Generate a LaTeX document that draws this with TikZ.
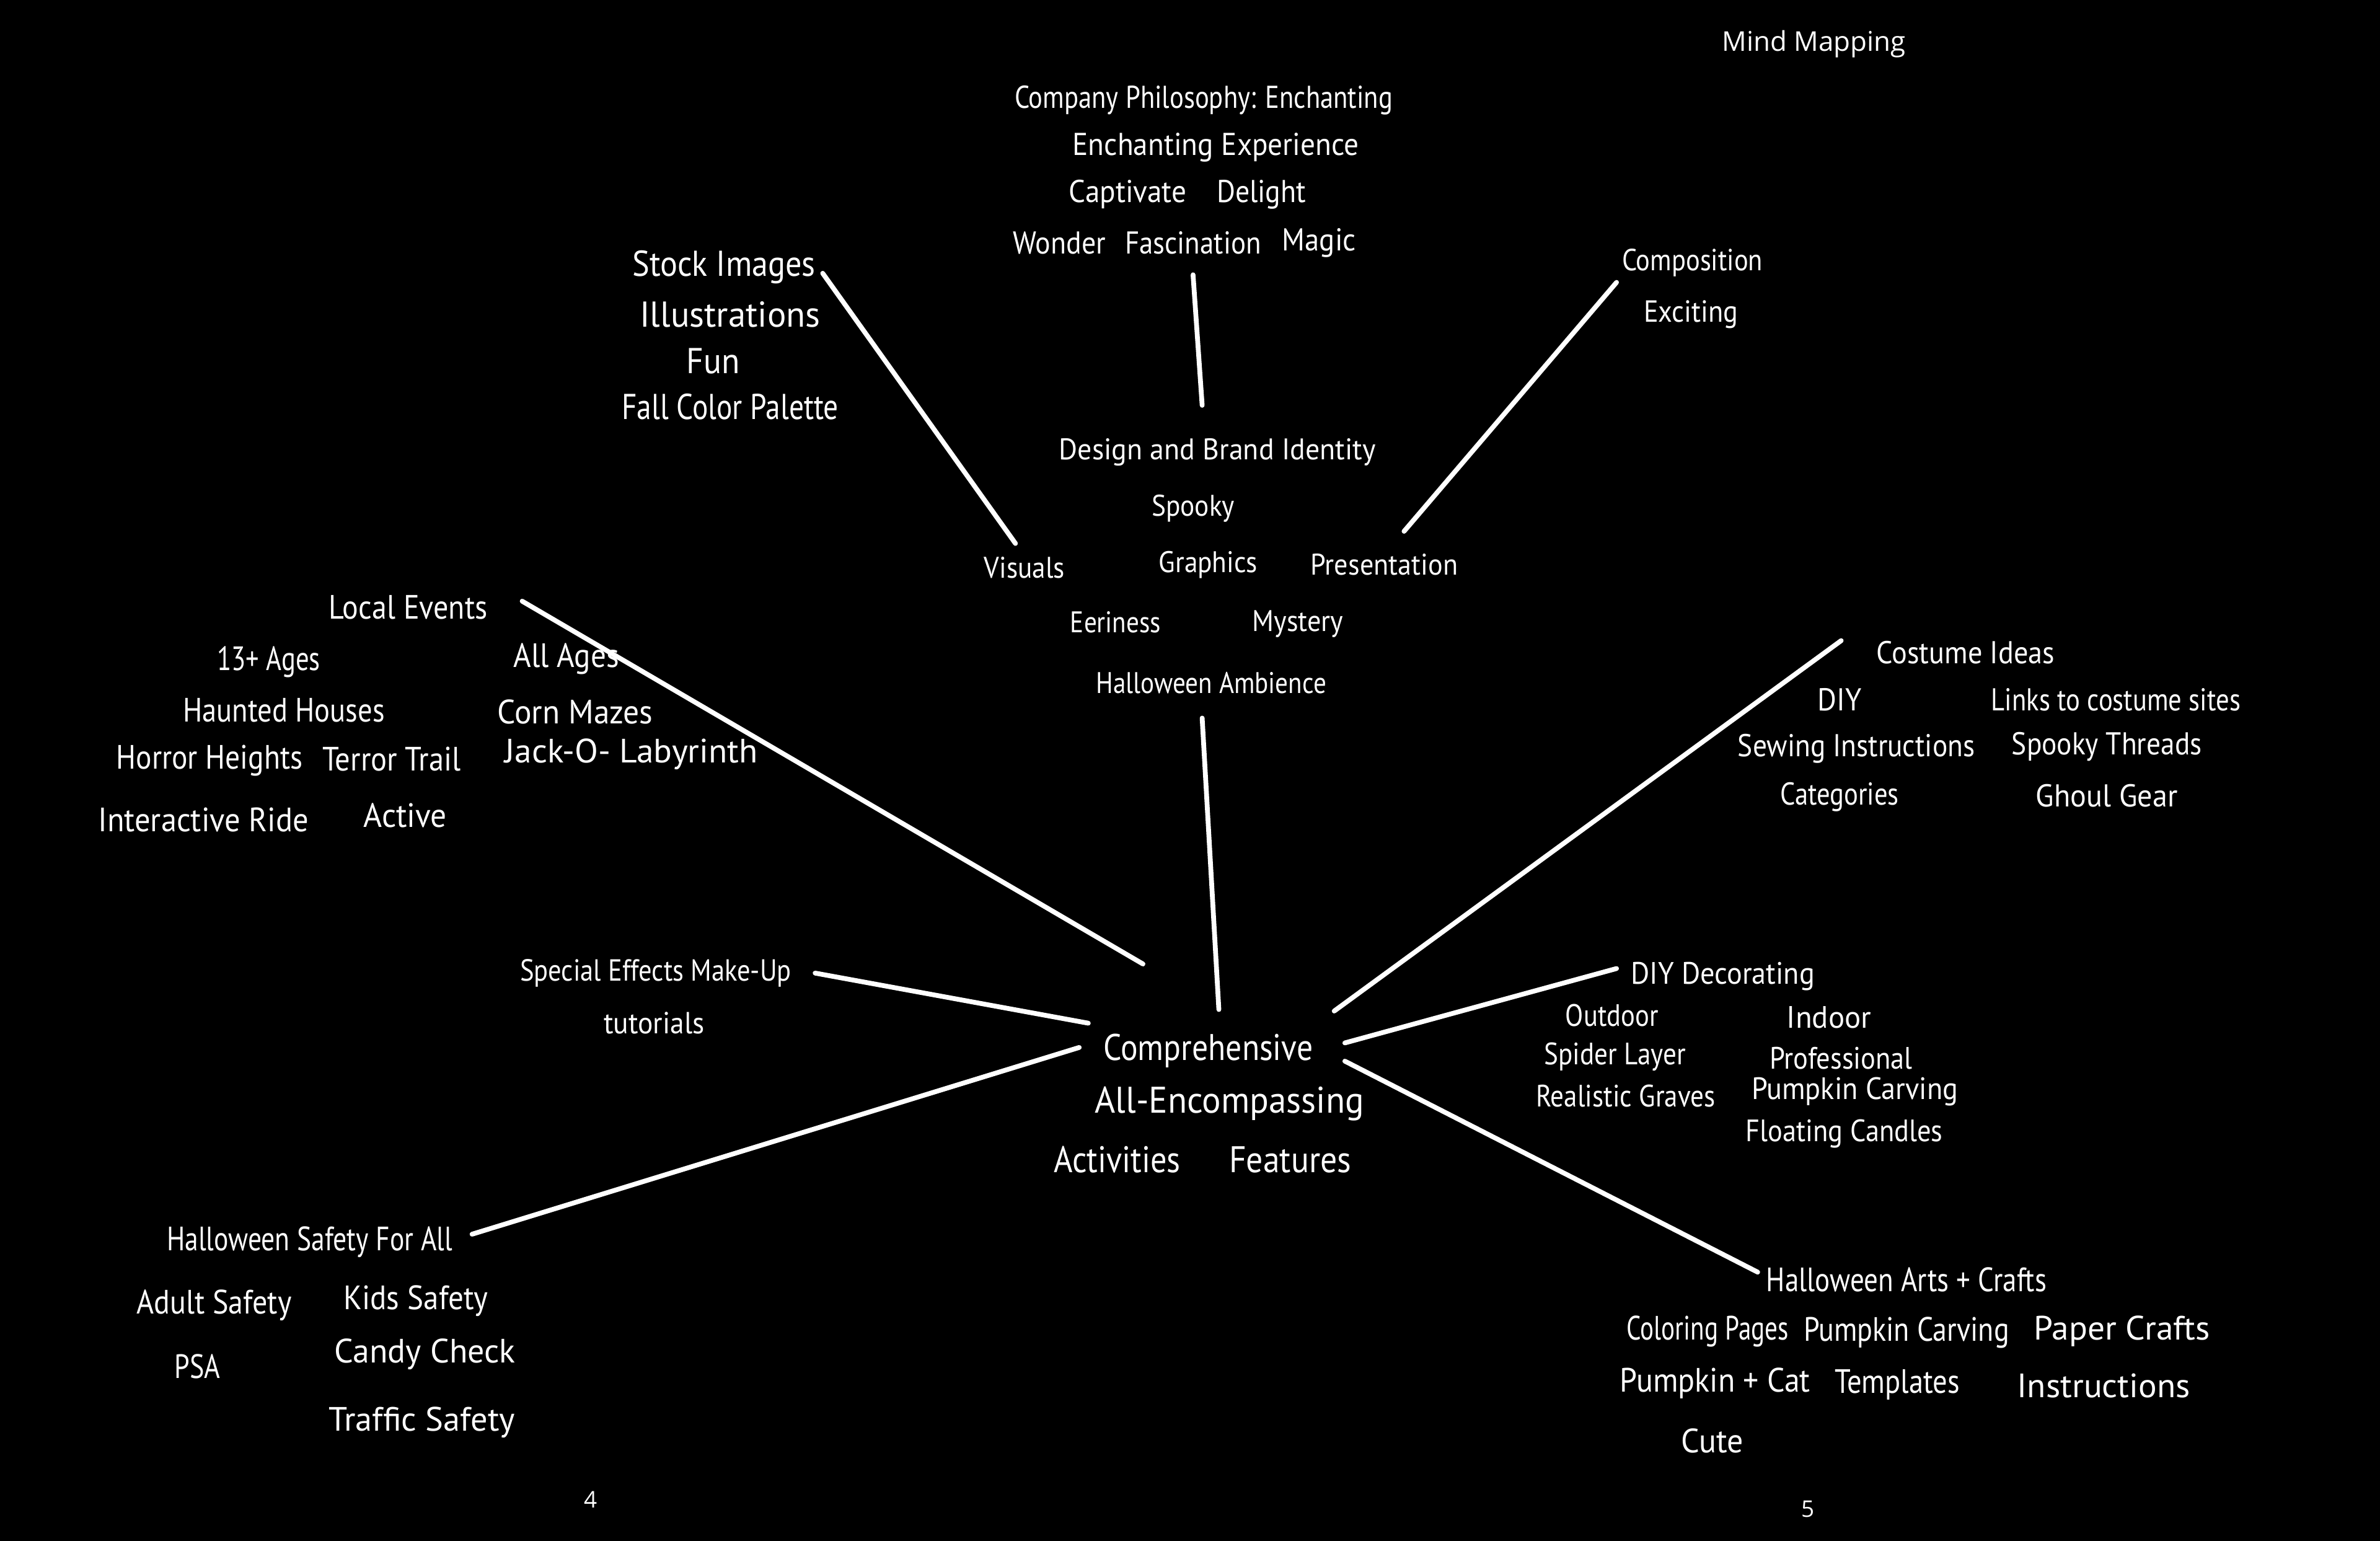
\documentclass[tikz,border=0pt]{standalone}
\usepackage{graphicx}
\usepackage{fontspec}
\newfontfamily\hand[FakeStretch=0.9]{PT Sans}
\newfontfamily\uifont{Open Sans}
\newcommand{\wfit}[2]{\scalebox{#1}[1]{#2}}
\begin{document}
\begin{tikzpicture}[x=0.02449cm,y=-0.02449cm,
  hw/.style={text=white,inner sep=0pt,font=\hand\fontsize{#1}{#1}\selectfont},
  ui/.style={text=white,inner sep=0pt,font=\uifont\fontsize{#1}{#1}\selectfont},
  conn/.style={draw=white,line width=2.2pt,line cap=round}]
\fill[black] (0,0) rectangle (1568,1015);
\useasboundingbox (0,0) rectangle (1568,1015);

% title and page numbers
\node[ui=12.5] (title) at (1195,29) {Mind Mapping};
\node[ui=10.5] (p4) at (389,988) {4};
\node[ui=10.5] (p5) at (1191,994) {5};

% company philosophy
\node[hw=14.5] (cp1) at (793,66) {\wfit{0.93}{Company Philosophy: Enchanting}};
\node[hw=14.5] (cp2) at (801,97) {\wfit{1.03}{Enchanting Experience}};
\node[hw=14.5] (cp3a) at (743,128) {\wfit{1.03}{Captivate}};
\node[hw=14.5] (cp3b) at (831,128) {Delight};
\node[hw=14.5] (cp4a) at (698,160) {Wonder};
\node[hw=14.5] (cp4b) at (786,160) {\wfit{0.98}{Fascination}};
\node[hw=14.5] (cp4c) at (869,160) {\wfit{1.02}{Magic}};

% design and brand identity
\node[hw=13.7] (db1) at (802,298) {\wfit{1.06}{Design and Brand Identity}};
\node[hw=13.7] (db2) at (786,335) {Spooky};
\node[hw=13.7] (vis) at (675,374) {Visuals};
\node[hw=13.7] (gra) at (796,372) {Graphics};
\node[hw=13.7] (pre) at (912,372) {\wfit{1.02}{Presentation}};
\node[hw=13.7] (eer) at (735,410) {\wfit{0.95}{Eeriness}};
\node[hw=13.7] (mys) at (855,411) {\wfit{1.02}{Mystery}};
\node[hw=13.7] (amb) at (798,450) {\wfit{0.95}{Halloween Ambience}};

% stock images
\node[hw=16.5] (st1) at (477,176) {Stock Images};
\node[hw=16.5] (st2) at (481,207) {\wfit{1.09}{Illustrations}};
\node[hw=16.5] (st3) at (470,238) {\wfit{1.03}{Fun}};
\node[hw=16.5] (st4) at (481,268) {\wfit{0.91}{Fall Color Palette}};

% composition
\node[hw=14] (co1) at (1115,173) {\wfit{0.96}{Composition}};
\node[hw=14] (co2) at (1114,207) {Exciting};

% center
\node[hw=17] (c1) at (796,692) {\wfit{0.96}{Comprehensive}};
\node[hw=17] (c2) at (810,727) {\wfit{1.06}{All-Encompassing}};
\node[hw=17] (c3) at (736,764) {\wfit{0.97}{Activities}};
\node[hw=17] (c4) at (850,764) {Features};

% local events
\node[hw=15.5] (le) at (269,400) {\wfit{0.98}{Local Events}};
\node[hw=15.5] (le1) at (177,436) {\wfit{0.87}{13+ Ages}};
\node[hw=15.5] (le2) at (373,434) {All Ages};
\node[hw=15.5] (le3) at (187,468) {\wfit{0.95}{Haunted Houses}};
\node[hw=15.5] (le4) at (379,469) {\wfit{1.05}{Corn Mazes}};
\node[hw=15.5] (le5) at (138,501) {\wfit{0.97}{Horror Heights}};
\node[hw=15.5] (le6) at (258,500) {\wfit{0.99}{Terror Trail}};
\node[hw=15.5] (le7) at (416,497) {\wfit{1.13}{Jack-O- Labyrinth}};
\node[hw=15.5] (le8) at (134,540) {\wfit{1.03}{Interactive Ride}};
\node[hw=15.5] (le9) at (267,537) {\wfit{1.05}{Active}};

% special effects
\node[hw=14] (sf1) at (432,641) {\wfit{0.96}{Special Effects Make-Up}};
\node[hw=14] (sf2) at (431,674) {\wfit{1.03}{tutorials}};

% safety
\node[hw=15.5] (sa) at (204,818) {\wfit{0.89}{Halloween Safety For All}};
\node[hw=15.5] (sa1) at (141,860) {\wfit{0.98}{Adult Safety}};
\node[hw=15.5] (sa2) at (274,857) {Kids Safety};
\node[hw=15.5] (sa3) at (130,900) {\wfit{0.9}{PSA}};
\node[hw=15.5] (sa4) at (280,892) {\wfit{1.1}{Candy Check}};
\node[hw=15.5] (sa5) at (278,937) {\wfit{1.11}{Traffic Safety}};

% costume ideas
\node[hw=14.5] (ci) at (1295,430) {\wfit{1.01}{Costume Ideas}};
\node[hw=14.5] (ci1) at (1212,461) {\wfit{1.03}{DIY}};
\node[hw=14.5] (ci2) at (1394,461) {\wfit{0.93}{Links to costume sites}};
\node[hw=14.5] (ci3) at (1223,493) {\wfit{0.99}{Sewing Instructions}};
\node[hw=14.5] (ci4) at (1388,492) {\wfit{0.99}{Spooky Threads}};
\node[hw=14.5] (ci5) at (1212,525) {\wfit{0.93}{Categories}};
\node[hw=14.5] (ci6) at (1388,524) {\wfit{1.05}{Ghoul Gear}};

% DIY decorating
\node[hw=14.2] (dd) at (1135,643) {\wfit{1.03}{DIY Decorating}};
\node[hw=14.2] (dd1) at (1062,669) {\wfit{0.95}{Outdoor}};
\node[hw=14.2] (dd2) at (1205,670) {\wfit{1.09}{Indoor}};
\node[hw=14.2] (dd3) at (1064,696) {\wfit{0.96}{Spider Layer}};
\node[hw=14.2] (dd4) at (1213,697) {\wfit{0.99}{Professional}};
\node[hw=14.2] (dd5) at (1071,722) {\wfit{0.96}{Realistic Graves}};
\node[hw=14.2] (dd6) at (1222,719) {\wfit{1.03}{Pumpkin Carving}};
\node[hw=14.2] (dd7) at (1215,747) {\wfit{0.99}{Floating Candles}};

% arts and crafts
\node[hw=15.5] (ac) at (1256,843) {\wfit{0.92}{Halloween Arts + Crafts}};
\node[hw=15.5] (ac1) at (1125,877) {\wfit{0.84}{Coloring Pages}};
\node[hw=15.5] (ac2) at (1256,878) {\wfit{0.94}{Pumpkin Carving}};
\node[hw=15.5] (ac3) at (1398,877) {\wfit{1.13}{Paper Crafts}};
\node[hw=15.5] (ac4) at (1130,911) {\wfit{1.02}{Pumpkin + Cat}};
\node[hw=15.5] (ac5) at (1250,912) {\wfit{0.95}{Templates}};
\node[hw=15.5] (ac6) at (1386,913) {\wfit{1.13}{Instructions}};
\node[hw=15.5] (ac7) at (1128,949) {\wfit{1.06}{Cute}};

% connector end points
\coordinate (cpE) at (786,181);
\coordinate (dbE) at (792,267);
\coordinate (visE) at (669,358);
\coordinate (stE) at (542,180);
\coordinate (preE) at (925,350);
\coordinate (coE) at (1065,186);
\coordinate (ambE) at (792,473);
\coordinate (cN) at (803,665);
\coordinate (leE) at (344,396);
\coordinate (cNW) at (753,635);
\coordinate (sfE) at (537,641);
\coordinate (cW) at (717,674);
\coordinate (saE) at (311,813);
\coordinate (cSW) at (711,690);
\coordinate (ciE) at (1213,422);
\coordinate (cNE) at (879,666);
\coordinate (ddE) at (1065,638);
\coordinate (cE) at (886,687);
\coordinate (acE) at (1158,838);
\coordinate (cSE) at (886,699);

\draw[conn] (cpE) -- (dbE);
\draw[conn] (visE) -- (stE);
\draw[conn] (preE) -- (coE);
\draw[conn] (ambE) -- (cN);
\draw[conn] (leE) -- (cNW);
\draw[conn] (sfE) -- (cW);
\draw[conn] (saE) -- (cSW);
\draw[conn] (cNE) -- (ciE);
\draw[conn] (cE) -- (ddE);
\draw[conn] (cSE) -- (acE);
\end{tikzpicture}
\end{document}
